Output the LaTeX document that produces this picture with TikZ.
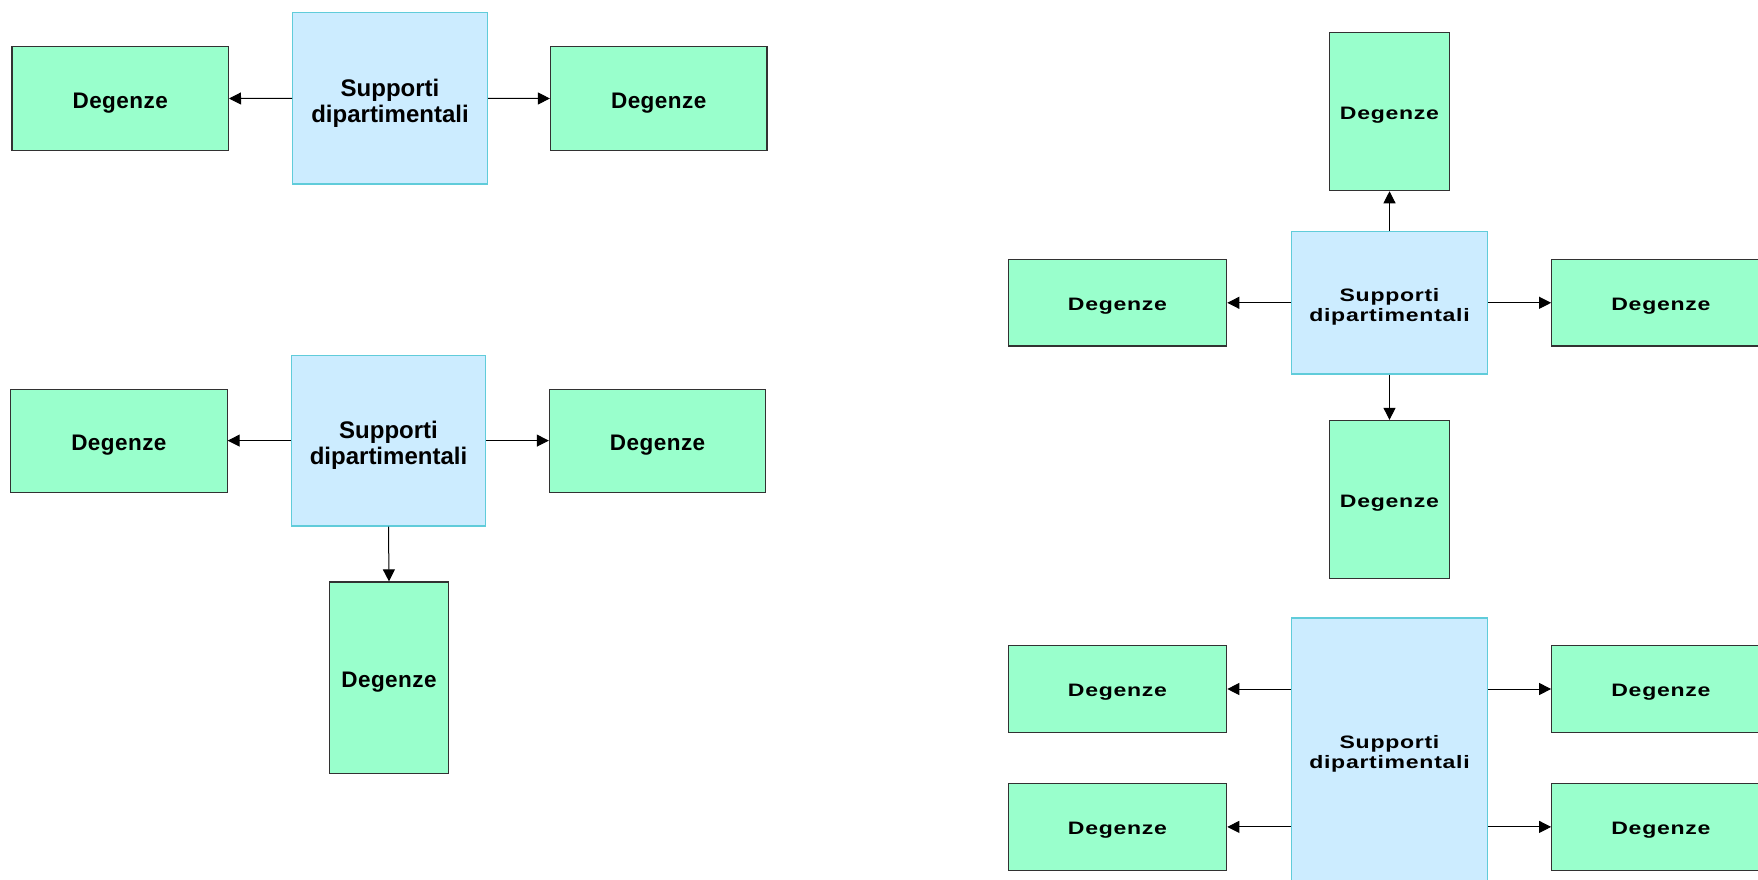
\documentclass[tikz,border=0pt]{standalone}
\usepackage{fontspec}
\setmainfont{Liberation Sans}
\newfontfamily\fwideA[LetterSpace=2]{Liberation Sans}
\newfontfamily\fwideB[LetterSpace=4,FakeStretch=1.28]{Liberation Sans}
\usetikzlibrary{arrows.meta}
\definecolor{gfill}{RGB}{153,255,204}
\definecolor{gdraw}{RGB}{50,50,50}
\definecolor{bfill}{RGB}{204,236,255}
\definecolor{bdraw}{RGB}{96,204,218}
\begin{document}
\begin{tikzpicture}[x=1pt,y=-1pt,
  gbox/.style={draw=gdraw, fill=gfill, line width=1.2pt, inner sep=0pt, align=center},
  bbox/.style={draw=bdraw, fill=bfill, line width=1.4pt, inner sep=0pt, align=center},
  degA/.style={gbox, font=\fwideA\bfseries\fontsize{22.5}{24}\selectfont, text height=19.6pt, text depth=0pt},
  degB/.style={gbox, font=\fwideB\bfseries\fontsize{18}{20.5}\selectfont, text height=15pt, text depth=0pt},
  supA/.style={bbox, font=\bfseries\fontsize{24}{26}\selectfont, text height=47.4pt, text depth=0pt},
  supB/.style={bbox, font=\fwideB\bfseries\fontsize{18}{20.5}\selectfont, text height=38pt, text depth=0pt},
  wide/.style={minimum width=216.4pt, minimum height=104pt},
  wideB/.style={minimum width=218.4pt, minimum height=86.5pt},
  tall/.style={minimum width=119pt, minimum height=191.7pt},
  tallB/.style={minimum width=120pt, minimum height=158.1pt},
  arr/.style={line width=1pt, -{Triangle[length=12pt,width=12pt]}}]
\useasboundingbox (0,0) rectangle (1758,880);
\clip (0,0) rectangle (1758,880);

% ---------- diagram 1 ----------
\node[supA, minimum width=194.6pt, minimum height=171.3pt] (s1) at (390,98.4) {Supporti\\dipartimentali};
\node[degA, wide] (d1L) at (120.2,98.5) {Degenze};
\node[degA, wide] (d1R) at (658.7,98.5) {Degenze};
\draw[arr] (s1.west) -- (d1L.east);
\draw[arr] (s1.east) -- (d1R.west);

% ---------- diagram 2 ----------
\node[supA, minimum width=194pt, minimum height=170.4pt] (s2) at (388.5,440.6) {Supporti\\dipartimentali};
\node[degA, wide, minimum height=103pt] (d2L) at (118.9,440.6) {Degenze};
\node[degA, wide, minimum height=103pt] (d2R) at (657.6,440.6) {Degenze};
\node[degA, tall] (d2B) at (389,677.8) {Degenze};
\draw[arr] (s2.west) -- (d2L.east);
\draw[arr] (s2.east) -- (d2R.west);
\draw[arr] (s2.south) -- (d2B.north);

% ---------- diagram 3 ----------
\node[supB, minimum width=195.6pt, minimum height=142.3pt] (s3) at (1389.5,302.8) {Supporti\\dipartimentali};
\node[degB, tallB] (d3T) at (1389.5,111.6) {Degenze};
\node[degB, tallB] (d3B) at (1389.5,499.5) {Degenze};
\node[degB, wideB] (d3L) at (1117.5,302.8) {Degenze};
\node[degB, wideB] (d3R) at (1660.9,302.8) {Degenze};
\draw[arr] (s3.north) -- (d3T.south);
\draw[arr] (s3.south) -- (d3B.north);
\draw[arr] (s3.west) -- (d3L.east);
\draw[arr] (s3.east) -- (d3R.west);

% ---------- diagram 4 ----------
\node[supB, minimum width=195.6pt, minimum height=264.2pt] (s4) at (1389.5,749.9) {Supporti\\dipartimentali};
\node[degB, wideB] (d4LT) at (1117.5,689) {Degenze};
\node[degB, wideB] (d4LB) at (1117.5,826.9) {Degenze};
\node[degB, wideB] (d4RT) at (1660.9,689) {Degenze};
\node[degB, wideB] (d4RB) at (1660.9,826.9) {Degenze};
\draw[arr] (s4.west |- d4LT) -- (d4LT.east);
\draw[arr] (s4.west |- d4LB) -- (d4LB.east);
\draw[arr] (s4.east |- d4RT) -- (d4RT.west);
\draw[arr] (s4.east |- d4RB) -- (d4RB.west);
\end{tikzpicture}
\end{document}
